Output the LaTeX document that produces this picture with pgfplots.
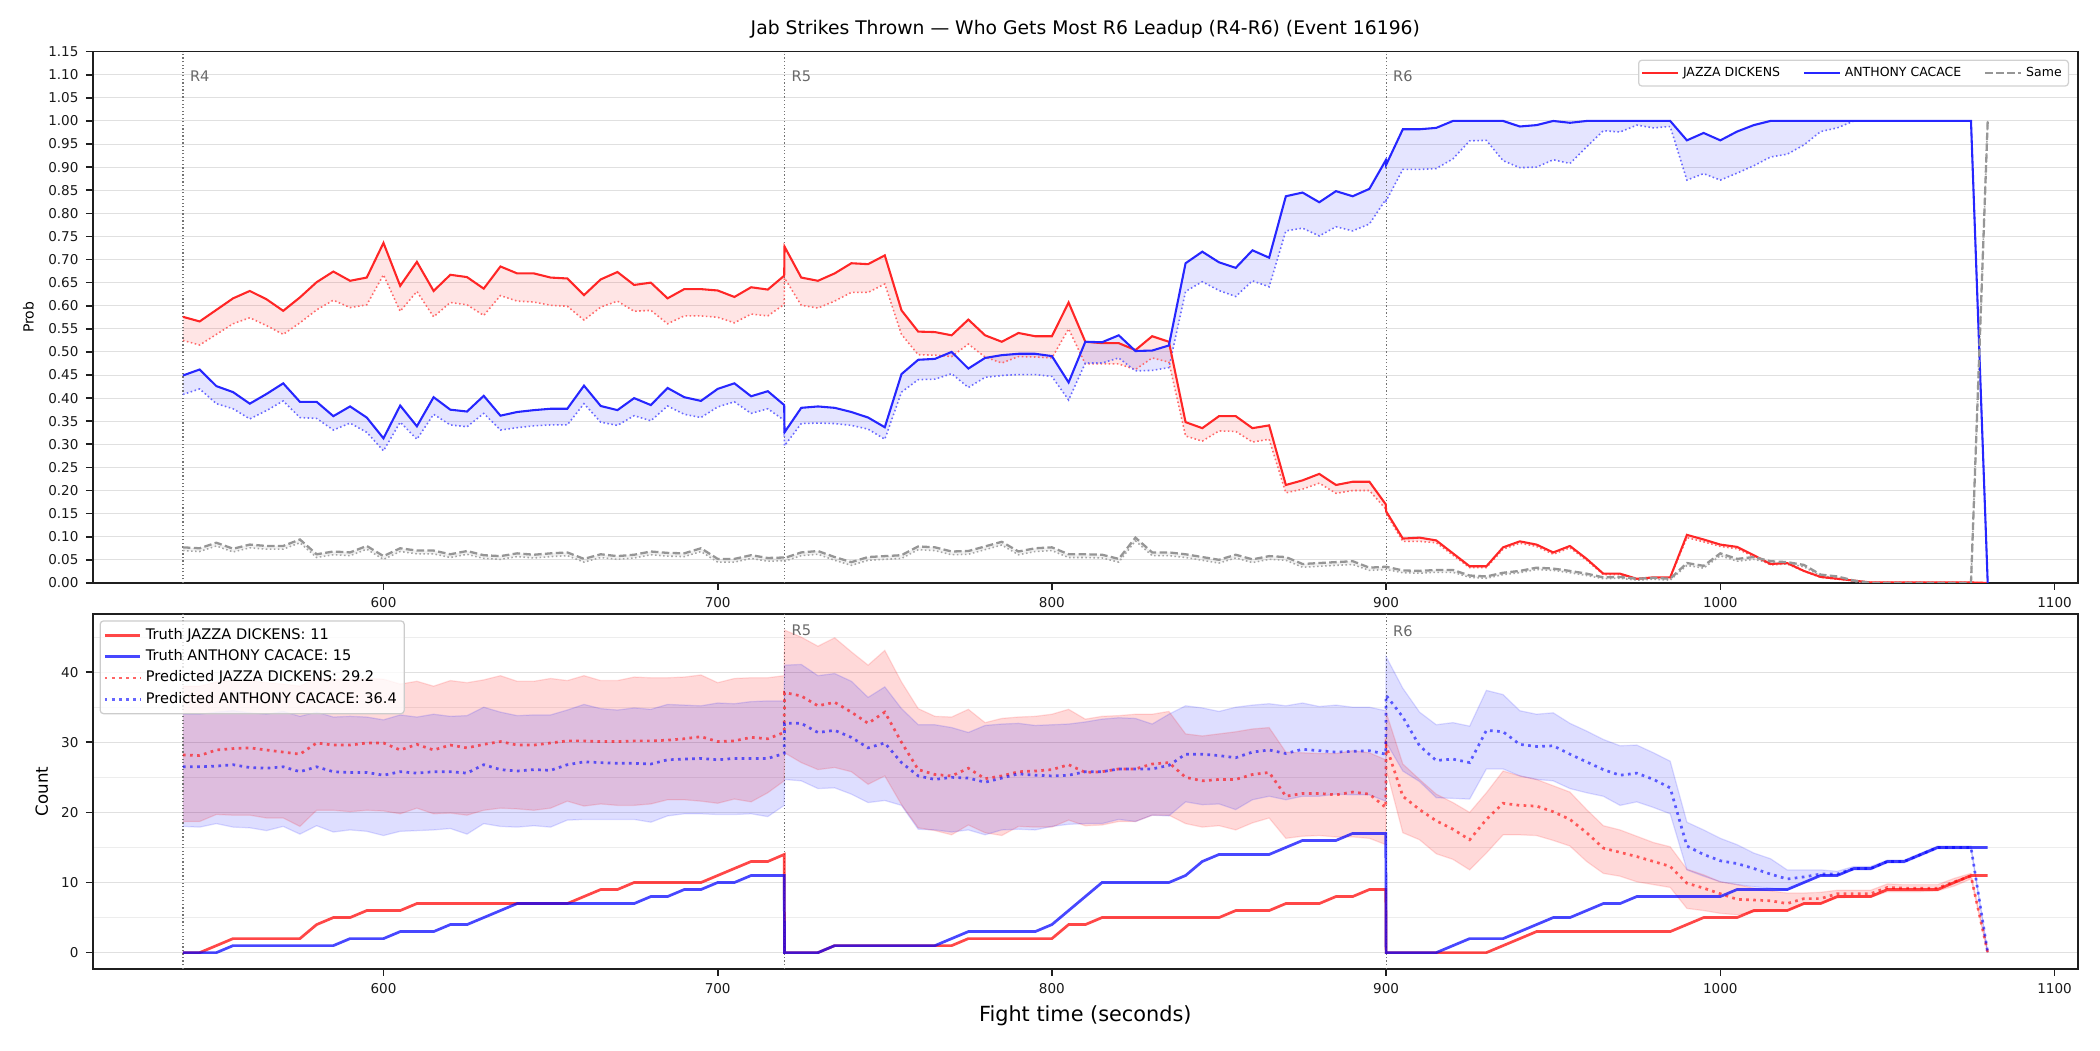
\documentclass[border=0pt]{standalone}
\usepackage{fontspec}
\setmainfont{DejaVu Sans}
\usepackage{pgfplots}
\usepackage{pgfplotstable}
\usepgfplotslibrary{fillbetween}
\pgfplotsset{compat=1.18}

\definecolor{tred}{RGB}{255,38,38}
\definecolor{tblue}{RGB}{38,38,255}
\definecolor{pred}{RGB}{255,105,105}
\definecolor{pblue}{RGB}{105,105,255}
\definecolor{sgray}{RGB}{150,150,150}
\definecolor{rlab}{RGB}{105,105,105}

\pgfplotstableread{
t rT rP bT bP sT sP
540 0.576 0.525 0.449 0.408 0.077 0.070
545 0.566 0.515 0.462 0.420 0.075 0.068
550 0.591 0.538 0.426 0.388 0.087 0.080
555 0.616 0.561 0.413 0.377 0.074 0.067
560 0.632 0.574 0.388 0.355 0.083 0.076
565 0.614 0.557 0.409 0.373 0.080 0.073
570 0.589 0.538 0.432 0.394 0.080 0.073
575 0.618 0.563 0.392 0.358 0.094 0.087
580 0.651 0.591 0.392 0.356 0.062 0.055
585 0.674 0.612 0.361 0.331 0.068 0.061
590 0.654 0.596 0.382 0.346 0.066 0.059
595 0.661 0.602 0.358 0.326 0.080 0.073
600 0.736 0.667 0.313 0.286 0.058 0.051
605 0.643 0.588 0.384 0.348 0.075 0.068
610 0.695 0.631 0.339 0.311 0.070 0.063
615 0.632 0.576 0.402 0.365 0.070 0.063
620 0.667 0.607 0.375 0.342 0.062 0.055
625 0.662 0.602 0.371 0.338 0.069 0.062
630 0.637 0.579 0.405 0.367 0.060 0.053
635 0.685 0.622 0.362 0.331 0.058 0.051
640 0.670 0.610 0.370 0.336 0.064 0.057
645 0.670 0.608 0.374 0.340 0.061 0.054
650 0.661 0.601 0.377 0.342 0.064 0.057
655 0.659 0.599 0.377 0.342 0.066 0.059
660 0.623 0.569 0.427 0.388 0.052 0.045
665 0.657 0.597 0.383 0.348 0.062 0.055
670 0.673 0.610 0.374 0.341 0.058 0.051
675 0.645 0.588 0.400 0.362 0.061 0.054
680 0.650 0.590 0.385 0.351 0.068 0.061
685 0.616 0.561 0.422 0.383 0.065 0.058
690 0.636 0.578 0.402 0.365 0.064 0.057
695 0.636 0.578 0.394 0.358 0.075 0.068
700 0.633 0.575 0.420 0.381 0.052 0.045
705 0.619 0.563 0.432 0.392 0.052 0.045
710 0.640 0.582 0.404 0.367 0.060 0.053
715 0.635 0.578 0.415 0.377 0.054 0.047
719.9 0.665 0.603 0.385 0.352 0.055 0.048
720 0.728 0.660 0.326 0.297 0.054 0.047
725 0.661 0.601 0.379 0.345 0.066 0.059
730 0.654 0.595 0.382 0.346 0.069 0.062
735 0.670 0.610 0.379 0.345 0.056 0.049
740 0.692 0.629 0.370 0.341 0.045 0.038
745 0.690 0.629 0.358 0.333 0.056 0.049
750 0.709 0.647 0.337 0.311 0.058 0.051
755 0.590 0.538 0.452 0.413 0.060 0.053
760 0.544 0.494 0.483 0.440 0.079 0.072
765 0.543 0.493 0.485 0.441 0.077 0.070
770 0.536 0.490 0.500 0.453 0.068 0.061
775 0.570 0.517 0.464 0.423 0.069 0.062
780 0.536 0.489 0.487 0.445 0.079 0.072
785 0.522 0.476 0.493 0.449 0.089 0.082
790 0.541 0.490 0.496 0.451 0.068 0.061
795 0.534 0.489 0.496 0.451 0.075 0.068
800 0.534 0.487 0.491 0.447 0.077 0.070
805 0.607 0.550 0.434 0.396 0.062 0.055
810 0.522 0.474 0.522 0.476 0.062 0.055
815 0.519 0.474 0.521 0.476 0.061 0.054
820 0.519 0.474 0.536 0.487 0.052 0.045
825 0.504 0.462 0.502 0.459 0.098 0.091
830 0.534 0.487 0.503 0.460 0.066 0.059
835 0.522 0.478 0.514 0.466 0.066 0.059
840 0.348 0.318 0.692 0.631 0.062 0.055
845 0.335 0.307 0.717 0.652 0.056 0.049
850 0.361 0.329 0.694 0.633 0.050 0.043
855 0.361 0.328 0.682 0.620 0.061 0.054
860 0.335 0.305 0.720 0.654 0.051 0.044
865 0.341 0.311 0.704 0.641 0.058 0.051
870 0.212 0.195 0.837 0.762 0.056 0.049
875 0.222 0.203 0.845 0.768 0.041 0.034
880 0.236 0.216 0.824 0.751 0.043 0.036
885 0.212 0.194 0.848 0.771 0.045 0.038
890 0.219 0.200 0.837 0.762 0.047 0.040
895 0.219 0.200 0.853 0.777 0.033 0.027
899.9 0.170 0.160 0.915 0.830 0.035 0.029
900 0.155 0.150 0.905 0.827 0.035 0.029
905 0.096 0.090 0.982 0.895 0.027 0.022
910 0.098 0.090 0.982 0.895 0.026 0.021
915 0.092 0.087 0.985 0.897 0.028 0.023
920 0.064 0.060 1.000 0.918 0.028 0.023
925 0.036 0.033 1.000 0.957 0.016 0.012
930 0.036 0.033 1.000 0.958 0.014 0.010
935 0.077 0.073 1.000 0.914 0.022 0.018
940 0.090 0.086 0.988 0.899 0.026 0.022
945 0.083 0.079 0.991 0.900 0.033 0.029
950 0.066 0.062 1.000 0.916 0.031 0.027
955 0.080 0.076 0.996 0.908 0.026 0.022
960 0.052 0.049 1.000 0.944 0.020 0.016
965 0.020 0.018 1.000 0.979 0.012 0.009
970 0.020 0.018 1.000 0.976 0.013 0.010
975 0.009 0.008 1.000 0.991 0.009 0.006
980 0.012 0.011 1.000 0.985 0.011 0.008
985 0.012 0.011 1.000 0.988 0.009 0.006
990 0.104 0.098 0.958 0.872 0.043 0.038
995 0.094 0.089 0.974 0.886 0.037 0.032
1000 0.083 0.079 0.958 0.872 0.064 0.059
1005 0.078 0.074 0.977 0.887 0.052 0.047
1010 0.060 0.057 0.991 0.903 0.056 0.051
1015 0.041 0.039 1.000 0.922 0.047 0.043
1020 0.043 0.041 1.000 0.928 0.045 0.041
1025 0.026 0.025 1.000 0.948 0.039 0.035
1030 0.013 0.012 1.000 0.977 0.018 0.015
1035 0.009 0.008 1.000 0.985 0.014 0.011
1040 0.005 0.005 1.000 1.000 0.005 0.003
1045 0.001 0.001 1.000 1.000 0.000 0.000
1050 0.001 0.001 1.000 1.000 0.000 0.000
1055 0.001 0.001 1.000 1.000 0.000 0.000
1060 0.001 0.001 1.000 1.000 0.000 0.000
1065 0.001 0.001 1.000 1.000 0.000 0.000
1070 0.001 0.001 1.000 1.000 0.000 0.000
1075 0.001 0.001 1.000 1.000 0.000 0.000
1080 0.000 0.000 0.000 0.000 1.000 1.000
}\probtab

\pgfplotstableread{
t rT bT rP bP rU rL bU bL
540 0 0 28.2 26.5 38.0 18.7 34.0 18.0
545 0 0 28.1 26.5 38.0 18.7 34.0 17.9
550 1 0 28.9 26.6 38.6 19.7 34.3 18.4
555 2 1 29.1 26.8 38.8 19.6 34.5 17.9
560 2 1 29.2 26.4 38.8 19.6 34.2 17.8
565 2 1 28.9 26.3 38.5 19.2 34.0 17.4
570 2 1 28.6 26.5 38.3 19.2 34.4 18.0
575 2 1 28.3 25.8 38.0 18.0 33.7 16.9
580 4 1 29.9 26.5 39.2 20.3 34.3 18.1
585 5 1 29.6 25.8 39.0 20.3 33.6 17.2
590 5 2 29.6 25.7 38.9 20.1 33.7 17.5
595 6 2 29.9 25.7 39.1 20.3 33.6 17.3
600 6 2 29.9 25.3 39.0 20.2 33.2 16.7
605 6 3 28.9 25.8 38.3 19.8 33.9 17.3
610 7 3 29.7 25.6 38.7 20.6 33.6 17.4
615 7 3 28.9 25.8 38.0 19.8 34.0 17.5
620 7 4 29.6 25.8 38.8 19.9 33.7 17.7
625 7 4 29.2 25.6 38.5 19.6 33.8 16.9
630 7 5 29.7 26.8 38.9 20.3 35.0 18.4
635 7 6 30.1 26.1 39.5 20.6 34.3 18.0
640 7 7 29.6 25.9 38.7 20.5 33.8 17.9
645 7 7 29.6 26.1 38.7 20.3 33.9 18.1
650 7 7 29.9 26.0 39.1 20.6 33.9 17.9
655 7 7 30.2 26.8 38.8 21.6 34.6 18.9
660 8 7 30.2 27.2 39.5 20.9 35.4 19.0
665 9 7 30.1 27.1 38.8 21.2 34.8 19.0
670 9 7 30.1 27.0 38.8 21.0 34.6 19.0
675 10 7 30.2 27.0 39.3 21.0 34.9 19.0
680 10 8 30.2 26.9 39.2 21.2 34.7 18.6
685 10 8 30.3 27.5 39.2 21.8 35.4 19.5
690 10 9 30.5 27.6 39.3 21.8 35.3 19.8
695 10 9 30.8 27.7 39.6 21.6 35.2 19.8
700 11 10 30.1 27.5 38.5 21.3 35.6 19.7
705 12 10 30.2 27.7 39.1 21.9 35.5 19.7
710 13 11 30.7 27.7 39.2 21.5 35.8 19.8
715 13 11 30.5 27.7 39.2 22.8 35.9 19.4
719.9 14 11 31.4 28.4 39.5 24.5 35.9 21.0
720 0 0 37.1 32.7 46.0 28.5 41.0 24.7
725 0 0 36.6 32.7 45.0 27.1 41.1 24.5
730 0 0 35.2 31.4 43.7 26.1 39.5 23.4
735 1 1 35.7 31.7 44.9 26.4 39.8 23.5
740 1 1 34.3 30.7 42.9 25.8 38.7 22.6
745 1 1 32.7 29.2 41.0 24.0 36.4 21.4
750 1 1 34.3 29.9 43.1 25.2 37.9 21.7
755 1 1 30.0 27.1 38.6 21.1 34.8 21.0
760 1 1 26.1 25.2 34.8 17.8 32.5 17.6
765 1 1 25.4 24.7 33.7 17.4 32.5 17.5
770 1 2 25.2 25.0 33.6 16.8 32.1 17.2
775 2 3 26.3 24.9 34.7 18.2 31.4 17.5
780 2 3 24.8 24.3 32.8 17.1 32.4 16.8
785 2 3 25.2 24.9 33.4 16.7 32.6 17.5
790 2 3 25.8 25.5 33.6 18.0 32.7 17.6
795 2 3 25.9 25.3 33.7 17.9 32.4 17.5
800 2 4 26.1 25.2 34.0 17.9 32.5 18.0
805 4 6 26.8 25.3 34.7 18.9 32.6 18.3
810 4 8 25.7 25.8 33.3 18.1 32.9 18.4
815 5 10 25.8 25.8 33.7 18.2 33.3 18.4
820 5 10 26.2 26.2 33.8 18.7 33.5 19.0
825 5 10 26.2 26.2 34.0 18.7 33.4 18.7
830 5 10 26.9 26.2 34.0 19.6 32.6 19.6
835 5 10 27.1 26.7 34.4 19.6 34.0 19.5
840 5 11 25.0 28.3 31.2 18.4 35.2 21.5
845 5 13 24.5 28.3 30.9 17.9 34.9 21.1
850 5 14 24.7 28.1 31.2 18.1 34.4 21.2
855 6 14 24.7 27.8 31.5 17.5 35.0 20.4
860 6 14 25.4 28.6 31.9 18.5 35.3 21.8
865 6 14 25.7 28.9 32.1 19.2 35.5 22.3
870 7 15 22.3 28.4 28.6 16.3 35.2 21.8
875 7 16 22.7 29.0 28.5 16.6 35.6 22.3
880 7 16 22.7 28.8 28.4 16.7 35.1 22.3
885 8 16 22.5 28.6 28.4 16.5 35.3 22.6
890 8 17 22.9 28.7 28.8 16.5 35.0 22.5
895 9 17 22.6 28.8 28.5 16.3 35.0 22.5
899.9 9 17 20.7 28.3 27.5 15.4 34.5 21.6
900 0 0 29.5 36.7 34.3 26.2 42.2 30.0
905 0 0 22.3 33.6 26.9 17.1 37.7 25.9
910 0 0 20.4 29.5 24.7 16.1 34.3 24.4
915 0 0 18.8 27.4 22.6 14.1 32.5 22.1
920 0 1 17.6 27.6 21.4 13.3 32.8 22.0
925 0 2 16.1 27.1 20.0 11.8 32.3 21.9
930 0 2 19.0 31.7 22.8 14.2 37.4 26.2
935 1 2 21.3 31.5 25.9 16.8 36.8 26.2
940 2 3 21.0 29.7 25.2 16.8 34.5 25.2
945 3 4 20.9 29.4 24.7 16.7 34.0 24.7
950 3 5 20.1 29.5 23.8 16.0 34.2 24.5
955 3 5 19.0 28.3 22.9 15.2 32.7 23.4
960 3 6 17.1 27.2 20.4 13.0 31.6 22.8
965 3 7 14.9 26.1 18.1 11.3 30.4 22.3
970 3 7 14.3 25.3 17.5 10.9 29.5 21.0
975 3 8 13.7 25.6 16.6 10.1 29.6 21.5
980 3 8 13.0 24.7 15.7 9.7 28.5 20.7
985 3 8 12.3 23.5 15.1 9.3 27.3 19.8
990 4 8 9.9 15.2 11.9 6.3 18.6 11.8
995 5 8 9.2 14.0 11.1 6.0 17.5 10.9
1000 5 8 8.4 13.1 10.1 5.6 16.3 10.1
1005 5 9 7.6 12.7 9.7 5.4 15.4 9.7
1010 6 9 7.5 12.0 9.2 5.8 14.2 9.4
1015 6 9 7.4 11.2 8.8 6.0 13.4 9.2
1020 6 9 7.0 10.5 8.5 6.0 11.8 8.9
1025 7 10 7.7 10.8 8.5 6.9 11.8 9.9
1030 7 11 7.7 11.2 8.6 7.0 11.8 11.0
1035 8 11 8.4 11.2 8.9 7.8 11.6 11.0
1040 8 12 8.4 12.0 8.9 7.9 12.3 11.8
1045 8 12 8.4 12.0 8.9 7.9 12.3 11.8
1050 9 13 9.3 13.0 9.8 8.7 13.2 12.8
1055 9 13 9.2 13.0 9.7 8.7 13.2 12.8
1060 9 14 9.2 14.0 9.7 8.7 14.2 13.8
1065 9 15 9.2 15.0 9.7 8.8 15.2 14.8
1070 10 15 10.1 15.0 10.6 9.5 15.2 14.8
1075 11 15 10.9 15.0 11.3 10.5 15.2 14.8
1080 11 15 0 0 0 0 0 0
}\counttab

\pgfplotsset{
  base/.style={
    scale only axis, width=952.9pt, xmin=513, xmax=1107,
    axis line style={line width=0.8pt, black!88},
    tick align=outside, major tick length=3.3pt, minor tick length=0pt,
    tick style={line width=0.8pt, black!88},
    tick pos=left,
    xtick={600,700,800,900,1000,1100},
    ticklabel style={font=\fontsize{6.5}{7.5}\selectfont, text=black!90},
    /pgf/number format/assume math mode=true,
    /pgf/number format/set thousands separator={},
    ymajorgrids, major grid style={line width=0.5pt, black!12},
    minor grid style={line width=0.5pt, black!7},
    legend cell align=left,
  },
}
\tikzset{
  vline/.style={black!55, line width=0.55pt, dash pattern=on 0.6pt off 1.1pt},
  rlabel/.style={anchor=west, inner sep=0pt, text=rlab, font=\fontsize{7}{8}\selectfont},
}

\begin{document}
\begin{tikzpicture}
\path (0,0) rectangle (1008pt,504pt);

% ---------------- top panel ----------------
\begin{axis}[base,
  at={(44.5pt,224.2pt)}, anchor=south west, height=255pt,
  ymin=0, ymax=1.15,
  ytick={0,0.05,0.1,0.15,0.2,0.25,0.3,0.35,0.4,0.45,0.5,0.55,0.6,0.65,0.7,0.75,0.8,0.85,0.9,0.95,1.0,1.05,1.1,1.15},
  yticklabel style={/pgf/number format/fixed, /pgf/number format/fixed zerofill, /pgf/number format/precision=2},
  xticklabel={},
  title={Jab Strikes Thrown — Who Gets Most R6 Leadup (R4-R6) (Event 16196)},
  every axis title/.style={font=\fontsize{9}{10}\selectfont, at={(axis description cs:0.5,1)}, anchor=center, yshift=10.9pt},
  ylabel={Prob},
  ylabel style={font=\fontsize{6.7}{8}\selectfont, at={(axis description cs:-0.0324,0.5)}, anchor=center, rotate=0},
  legend columns=3,
  legend style={at={(rel axis cs:0.9955,0.985)}, anchor=north east,
    font=\fontsize{6}{7}\selectfont, draw=black!18, line width=0.6pt, rounded corners=1.5pt,
    inner sep=1.2pt, /tikz/every even column/.append style={column sep=9pt}},
]
\addlegendimage{tred, line width=1pt}
\addlegendentry{JAZZA DICKENS}
\addlegendimage{tblue, line width=1pt}
\addlegendentry{ANTHONY CACACE}
\addlegendimage{sgray, line width=1.1pt, dash pattern=on 3.6pt off 1.6pt}
\addlegendentry{Same}

\addplot[vline, forget plot] coordinates {(540,0) (540,1.15)};
\addplot[vline, forget plot] coordinates {(720,0) (720,1.15)};
\addplot[vline, forget plot] coordinates {(900,0) (900,1.15)};

% red
\addplot[name path=rT, draw=none, forget plot] table[x=t, y=rT] {\probtab};
\addplot[name path=rP, pred, line width=0.75pt, dash pattern=on 0.75pt off 1.2pt, forget plot] table[x=t, y=rP] {\probtab};
\addplot[fill=red, fill opacity=0.1, draw=none, forget plot] fill between[of=rT and rP];
% blue
\addplot[name path=bT, draw=none, forget plot] table[x=t, y=bT] {\probtab};
\addplot[name path=bP, pblue, line width=0.75pt, dash pattern=on 0.75pt off 1.2pt, forget plot] table[x=t, y=bP] {\probtab};
\addplot[fill=blue, fill opacity=0.1, draw=none, forget plot] fill between[of=bT and bP];
% gray
\addplot[name path=sT, draw=none, forget plot] table[x=t, y=sT] {\probtab};
\addplot[name path=sP, black!35, line width=0.75pt, dash pattern=on 0.75pt off 1.2pt, forget plot] table[x=t, y=sP] {\probtab};
\addplot[fill=gray, fill opacity=0.1, draw=none, forget plot] fill between[of=sT and sP];

\addplot[tred, line width=1pt, forget plot] table[x=t, y=rT] {\probtab};
\addplot[tblue, line width=1pt, forget plot] table[x=t, y=bT] {\probtab};
\addplot[sgray, line width=1.1pt, dash pattern=on 3.6pt off 1.6pt, forget plot] table[x=t, y=sT] {\probtab};

\node[rlabel] at (axis cs:542,1.097) {R4};
\node[rlabel] at (axis cs:722,1.097) {R5};
\node[rlabel] at (axis cs:902,1.097) {R6};
\end{axis}

% ---------------- bottom panel ----------------
\begin{axis}[base,
  at={(44.5pt,39.0pt)}, anchor=south west, height=170.3pt,
  ymin=-2.3, ymax=48.3,
  ytick={0,10,20,30,40}, minor ytick={5,15,25,35,45}, yminorgrids,
  xlabel={Fight time (seconds)},
  xlabel style={font=\fontsize{10}{12}\selectfont, at={(axis description cs:0.5,-0.132)}, anchor=center},
  ylabel={Count},
  ylabel style={font=\fontsize{8}{9}\selectfont, at={(axis description cs:-0.0257,0.5)}, anchor=center, rotate=0},
  legend style={at={(rel axis cs:0.0035,0.982)}, anchor=north west,
    font=\fontsize{7}{8.5}\selectfont, draw=black!20, line width=0.6pt, rounded corners=1.5pt,
    fill=white, fill opacity=0.8, text opacity=1, inner sep=1.5pt, row sep=-0.6pt},
]
\addlegendimage{red, opacity=0.72, line width=1.3pt}
\addlegendentry{Truth JAZZA DICKENS: 11}
\addlegendimage{blue, opacity=0.72, line width=1.3pt}
\addlegendentry{Truth ANTHONY CACACE: 15}
\addlegendimage{red, opacity=0.6, line width=1.3pt, dash pattern=on 1.3pt off 2.1pt}
\addlegendentry{Predicted JAZZA DICKENS: 29.2}
\addlegendimage{blue, opacity=0.6, line width=1.3pt, dash pattern=on 1.3pt off 2.1pt}
\addlegendentry{Predicted ANTHONY CACACE: 36.4}

\addplot[vline, forget plot] coordinates {(540,-2.3) (540,48.3)};
\addplot[vline, forget plot] coordinates {(720,-2.3) (720,48.3)};
\addplot[vline, forget plot] coordinates {(900,-2.3) (900,48.3)};

\addplot[name path=rU, red, opacity=0.13, line width=0.6pt, forget plot] table[x=t, y=rU] {\counttab};
\addplot[name path=rL, red, opacity=0.13, line width=0.6pt, forget plot] table[x=t, y=rL] {\counttab};
\addplot[fill=red, fill opacity=0.15, draw=none, forget plot] fill between[of=rU and rL];
\addplot[name path=bU, blue, opacity=0.13, line width=0.6pt, forget plot] table[x=t, y=bU] {\counttab};
\addplot[name path=bL, blue, opacity=0.13, line width=0.6pt, forget plot] table[x=t, y=bL] {\counttab};
\addplot[fill=blue, fill opacity=0.13, draw=none, forget plot] fill between[of=bU and bL];

\addplot[red, opacity=0.6, line width=1.3pt, dash pattern=on 1.3pt off 2.1pt, forget plot] table[x=t, y=rP] {\counttab};
\addplot[blue, opacity=0.6, line width=1.3pt, dash pattern=on 1.3pt off 2.1pt, forget plot] table[x=t, y=bP] {\counttab};
\addplot[red, opacity=0.72, line width=1.3pt, forget plot] table[x=t, y=rT] {\counttab};
\addplot[blue, opacity=0.72, line width=1.3pt, forget plot] table[x=t, y=bT] {\counttab};

\node[rlabel] at (axis cs:722,45.9) {R5};
\node[rlabel] at (axis cs:902,45.9) {R6};
\end{axis}
\end{tikzpicture}
\end{document}
